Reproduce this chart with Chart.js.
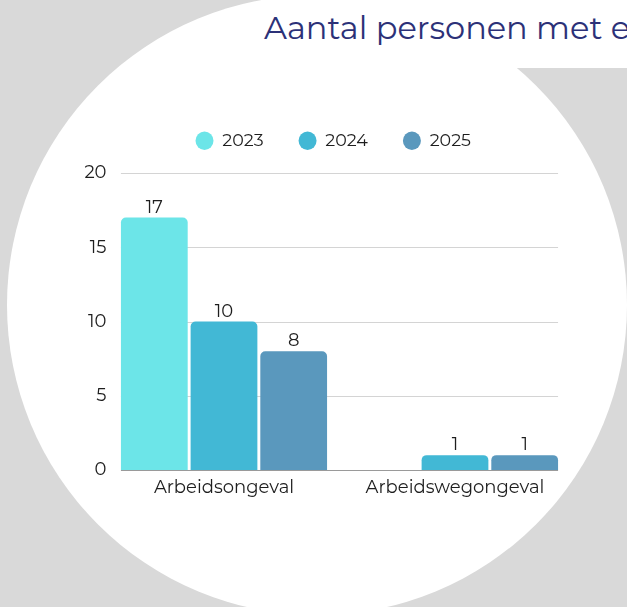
<!DOCTYPE html>
<html lang="nl">
<head>
<meta charset="utf-8">
<title>Aantal personen met een arbeidsongeval</title>
<script src="https://cdn.jsdelivr.net/npm/chart.js@4.4.1/dist/chart.umd.min.js"></script>
<style>
  html, body { margin: 0; padding: 0; }
  body {
    width: 627px; height: 607px; overflow: hidden; position: relative;
    background: #d9d9d9;
    font-family: 'Montserrat', 'Inter', sans-serif;
  }
  .bol {
    position: absolute; left: 7px; top: -5px;
    width: 620px; height: 620px; border-radius: 50%;
    background: #fff;
  }
  .kop {
    position: absolute; left: 262px; top: 0; width: 400px; height: 68px;
    background: #fff; border-bottom-left-radius: 20px;
  }
  .titel {
    position: absolute; left: 264px; top: 8px;
    font-size: 32px; color: #2c3178; white-space: nowrap;
  }
  #chartOngevallen { position: absolute; left: 44px; top: 97px; }
</style>
</head>
<body>
<div class="bol"></div>
<div class="kop"></div>
<div class="titel">Aantal personen met een arbeidsongeval</div>
<canvas id="chartOngevallen" width="582" height="403"></canvas>
<script>
// soorten ongeval (x-as) en jaren (legenda)
const categorieen = ['Arbeidsongeval', 'Arbeidswegongeval'];
const jaren = ['2023', '2024', '2025'];
// aantal personen per jaar
const aantallen2023 = [17, null];
const aantallen2024 = [10, 1];
const aantallen2025 = [8, 1];
const kleuren = ['#6ce5e8', '#42b8d5', '#5a98bd'];
const yTicks = [0, 5, 10, 15, 20];

const fontNaam = "'Montserrat', 'Inter', sans-serif";
const tekstKleur = '#1e1e1e';

// grid alleen tussen de buitenste balken tekenen
const rasterPlugin = {
    id: 'raster',
    beforeDatasetsDraw(chart) {
        const ctx = chart.ctx;
        const yScale = chart.scales.y;
        const eerste = chart.getDatasetMeta(0).data[0];
        const laatste = chart.getDatasetMeta(2).data[1];
        const links = eerste.x - eerste.width / 2;
        const rechts = laatste.x + laatste.width / 2;
        ctx.save();
        yScale.ticks.forEach((t, i) => {
            const y = Math.round(yScale.getPixelForTick(i)) + 0.5;
            ctx.strokeStyle = t.value === 0 ? '#9a9a9a' : '#d4d4d4';
            ctx.lineWidth = 1;
            ctx.beginPath();
            ctx.moveTo(links, y);
            ctx.lineTo(rechts, y);
            ctx.stroke();
        });
        ctx.restore();
    }
};

// waarde boven elke balk
const labelPlugin = {
    id: 'waardes',
    afterDatasetsDraw(chart) {
        const ctx = chart.ctx;
        ctx.save();
        ctx.font = '18px ' + fontNaam;
        ctx.fillStyle = tekstKleur;
        ctx.textAlign = 'center';
        ctx.textBaseline = 'alphabetic';
        chart.data.datasets.forEach((ds, i) => {
            chart.getDatasetMeta(i).data.forEach((bar, j) => {
                const v = ds.data[j];
                if (v === null || v === undefined) return;
                ctx.fillText(String(v), bar.x, bar.y - 5);
            });
        });
        ctx.restore();
    }
};

// legenda hoger maken en iets naar rechts schuiven
const legendaPlaats = {
    id: 'legendaPlaats',
    beforeInit(chart) {
        const fit = chart.legend.fit;
        chart.legend.fit = function () {
            fit.call(this);
            this.height = 76;
        };
    },
    afterLayout(chart) {
        chart.legend.left += 26;
        chart.legend.right += 26;
    }
};

const ctx = document.querySelector('#chartOngevallen').getContext('2d');
const chart = new Chart(ctx, {
    type: 'bar',
    data: {
        labels: categorieen,
        datasets: [
            { label: jaren[0], data: aantallen2023, backgroundColor: kleuren[0] },
            { label: jaren[1], data: aantallen2024, backgroundColor: kleuren[1] },
            { label: jaren[2], data: aantallen2025, backgroundColor: kleuren[2] }
        ]
    },
    options: {
        responsive: false,
        animation: false,
        layout: { padding: { left: 0, right: 55.5, top: 0, bottom: 0 } },
        datasets: {
            bar: {
                categoryPercentage: 0.905,
                barPercentage: 0.958,
                borderRadius: 5,
                borderSkipped: 'bottom'
            }
        },
        plugins: {
            legend: {
                position: 'top',
                labels: {
                    usePointStyle: true,
                    pointStyle: 'circle',
                    boxHeight: 13,
                    pointStyleWidth: 18,
                    padding: 35,
                    color: tekstKleur,
                    font: { family: fontNaam, size: 17.5 }
                }
            },
            tooltip: { enabled: false }
        },
        scales: {
            x: {
                grid: { display: false, drawTicks: false },
                border: { display: false },
                ticks: { color: tekstKleur, padding: 7, font: { family: fontNaam, size: 18 } },
                afterFit(scale) { scale.height = 30; }
            },
            y: {
                min: 0,
                max: 20,
                grid: { display: false, drawTicks: false },
                border: { display: false },
                afterBuildTicks(scale) { scale.ticks = yTicks.map(v => ({ value: v })); },
                ticks: { color: tekstKleur, padding: 2, font: { family: fontNaam, size: 18 } },
                afterFit(scale) { scale.width = 64.5; }
            }
        }
    },
    plugins: [rasterPlugin, labelPlugin, legendaPlaats]
});
</script>
</body>
</html>
